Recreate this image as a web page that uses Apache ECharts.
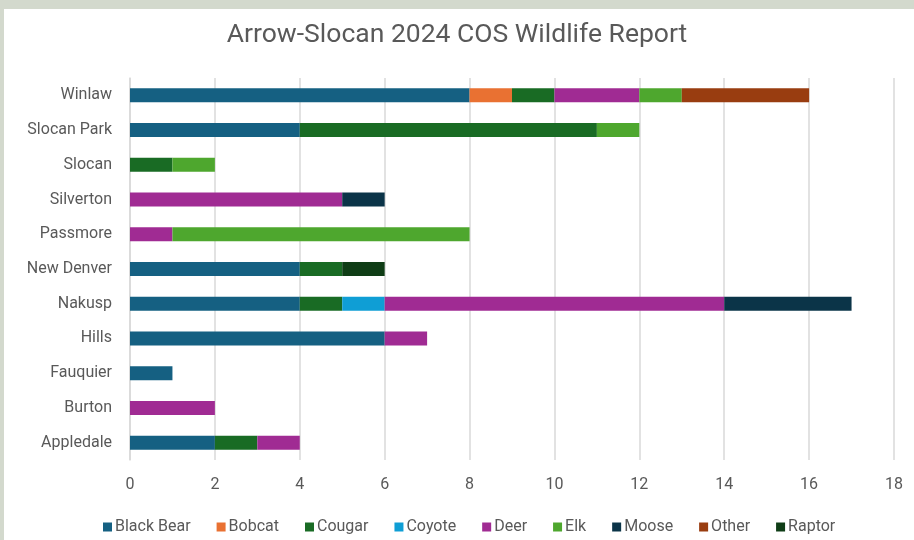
<!DOCTYPE html>
<html>
<head>
    <meta charset="UTF-8">
    <title>Arrow-Slocan 2024 COS Wildlife Report</title>
    <script src="https://cdn.jsdelivr.net/npm/echarts@6/dist/echarts.min.js"></script>
    <style>
        html, body { margin: 0; padding: 0; background: #d3d9cd; }
        #main { width: 914px; height: 540px; }
    </style>
</head>
<body>
<div id="main"></div>
<script type="text/javascript">
    // categories bottom to top, same order as the chart
    var towns = ['Appledale', 'Burton', 'Fauquier', 'Hills', 'Nakusp', 'New Denver',
                 'Passmore', 'Silverton', 'Slocan', 'Slocan Park', 'Winlaw'];

    var blackBear = [2, 0, 1, 6, 4, 4, 0, 0, 0, 4, 8];
    var bobcat    = [0, 0, 0, 0, 0, 0, 0, 0, 0, 0, 1];
    var cougar    = [1, 0, 0, 0, 1, 1, 0, 0, 1, 7, 1];
    var coyote    = [0, 0, 0, 0, 1, 0, 0, 0, 0, 0, 0];
    var deer      = [1, 2, 0, 1, 8, 0, 1, 5, 0, 0, 2];
    var elk       = [0, 0, 0, 0, 0, 0, 7, 0, 1, 1, 1];
    var moose     = [0, 0, 0, 0, 3, 0, 0, 1, 0, 0, 0];
    var other     = [0, 0, 0, 0, 0, 0, 0, 0, 0, 0, 3];
    var raptor    = [0, 0, 0, 0, 0, 1, 0, 0, 0, 0, 0];

    var speciesNames = ['Black Bear', 'Bobcat', 'Cougar', 'Coyote', 'Deer', 'Elk', 'Moose', 'Other', 'Raptor'];
    var speciesData = [blackBear, bobcat, cougar, coyote, deer, elk, moose, other, raptor];
    var colors = ['#156082', '#e97132', '#196b24', '#0f9ed5', '#a02b93', '#4ea72e', '#0b3448', '#993d10', '#0f3d16'];

    var font = "'Roboto', sans-serif";

    var series = speciesNames.map(function (name, i) {
        return {
            name: name,
            type: 'bar',
            stack: 'total',
            barWidth: 14,
            itemStyle: { color: colors[i] },
            data: speciesData[i].map(function (v) { return v === 0 ? null : v; })
        };
    });

    var myChart = echarts.init(document.getElementById('main'));
    myChart.setOption({
        animation: false,
        textStyle: { fontFamily: font },
        graphic: [{
            type: 'rect',
            z: -10,
            shape: { x: 4, y: 9, width: 910, height: 531 },
            style: { fill: '#ffffff' }
        }],
        title: {
            text: 'Arrow-Slocan 2024 COS Wildlife Report',
            left: 'center',
            top: 17,
            textStyle: { fontFamily: font, fontSize: 26.5, fontWeight: 'normal', color: '#595959' }
        },
        legend: {
            bottom: 0,
            left: 98,
            itemWidth: 9,
            itemHeight: 9,
            itemGap: 26,
            icon: 'rect',
            textStyle: { fontFamily: font, fontSize: 16, color: '#595959', padding: [0, 0, 0, -2] },
            data: speciesNames
        },
        grid: { left: 130, right: 20, top: 78, bottom: 80, containLabel: false },
        xAxis: {
            type: 'value',
            min: 0,
            max: 18,
            interval: 2,
            axisLine: { show: false },
            axisTick: { show: false },
            axisLabel: { color: '#595959', fontSize: 16, fontFamily: font, margin: 17 },
            splitLine: { lineStyle: { color: '#d9d9d9', width: 1.5 } }
        },
        yAxis: {
            type: 'category',
            data: towns,
            axisLine: { lineStyle: { color: '#d9d9d9', width: 1.5 } },
            axisTick: { show: false },
            axisLabel: { color: '#595959', fontSize: 16, fontFamily: font, margin: 18 }
        },
        series: series
    });
</script>
</body>
</html>
